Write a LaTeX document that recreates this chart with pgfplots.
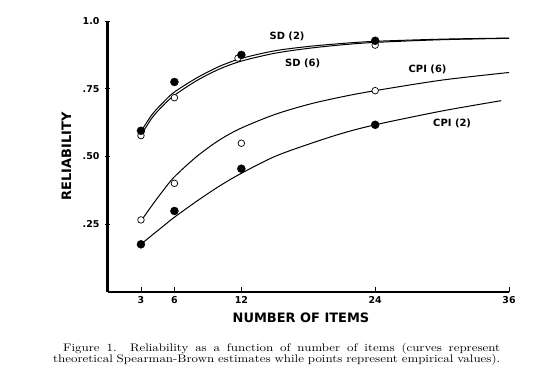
\documentclass[border=0pt]{standalone}
\usepackage{fontspec}
\usepackage{pgfplots}
\pgfplotsset{compat=1.18}
\newfontfamily\dv{DejaVu Sans}
\newfontfamily\capfont[FakeStretch=1.18]{Latin Modern Roman}
\begin{document}
\begin{tikzpicture}[x=1bp,y=1bp]
\path[use as bounding box] (0,0) rectangle (556,377);
\begin{axis}[
  at={(107.5bp,85bp)}, anchor=south west,
  scale only axis, width=401.5bp, height=271bp,
  xmin=0, xmax=36, ymin=0, ymax=1,
  clip=false,
  axis x line*=bottom, axis y line*=left,
  axis line style={-, line width=2.6bp},
  xtick={3,6,12,24,36},
  ytick={0.25,0.5,0.75,1},
  yticklabels={.25,.50,.75,1.0},
  /pgf/number format/assume math mode=true,
  ticklabel style={font=\dv\bfseries\fontsize{9.5}{10}\selectfont},
  x tick style={line width=0.8bp, black},
  y tick style={line width=0.8bp, black},
  major tick length=5bp,
  xtick align=inside,
  ytick align=center,
  yticklabel style={xshift=-2bp},
  xticklabel style={yshift=-1bp},
]
% theoretical curves
\addplot[black, line width=1bp, smooth] coordinates {
 (3,0.592) (4,0.655) (5,0.700) (6,0.738) (8,0.790) (10,0.832) (12,0.862) (15,0.890) (18,0.906) (21,0.917) (24,0.925) (30,0.933) (36,0.937)};
\addplot[black, line width=1bp, smooth] coordinates {
 (3,0.578) (4,0.643) (5,0.689) (6,0.726) (8,0.780) (10,0.822) (12,0.852) (15,0.881) (18,0.899) (21,0.912) (24,0.921) (30,0.931) (36,0.936)};
\addplot[black, line width=1bp, smooth] coordinates {
 (3,0.262) (4,0.320) (5,0.375) (6,0.425) (8,0.500) (10,0.560) (12,0.605) (15,0.655) (18,0.692) (21,0.720) (24,0.743) (30,0.782) (36,0.810)};
\addplot[black, line width=1bp, smooth] coordinates {
 (3,0.176) (4,0.210) (5,0.243) (6,0.276) (8,0.335) (10,0.390) (12,0.438) (15,0.500) (18,0.545) (21,0.585) (24,0.617) (30,0.668) (35.3,0.706)};
% empirical points
\addplot[only marks, mark=*, mark size=3.3bp, mark options={fill=white, draw=black, line width=0.7bp}] coordinates {
 (3,0.577) (6,0.717) (11.7,0.863) (24,0.911)};
\addplot[only marks, mark=*, mark size=3.3bp, mark options={fill=white, draw=black, line width=0.7bp}] coordinates {
 (3,0.266) (6,0.401) (12,0.549) (24,0.743)};
\addplot[only marks, mark=*, mark size=4bp, mark options={fill=black, draw=black}] coordinates {
 (3,0.595) (6,0.775) (12,0.875) (24,0.927)};
\addplot[only marks, mark=*, mark size=4bp, mark options={fill=black, draw=black}] coordinates {
 (3,0.176) (6,0.299) (12,0.455) (24,0.617)};
% curve labels
\node[font=\dv\bfseries\fontsize{10}{10}\selectfont] at (axis cs:16.1,0.945) {SD (2)};
\node[font=\dv\bfseries\fontsize{10}{10}\selectfont] at (axis cs:17.5,0.845) {SD (6)};
\node[font=\dv\bfseries\fontsize{10}{10}\selectfont] at (axis cs:28.7,0.823) {CPI (6)};
\node[font=\dv\bfseries\fontsize{10}{10}\selectfont] at (axis cs:30.9,0.624) {CPI (2)};
\end{axis}
% axis titles
\node[font=\dv\bfseries\fontsize{13}{13}\selectfont, rotate=90] at (66.5,220.5) {RELIABILITY};
\node[font=\dv\bfseries\fontsize{13}{13}\selectfont] at (301,59) {NUMBER OF ITEMS};
% caption
\node[anchor=base west, inner sep=0pt, font=\capfont\fontsize{11}{12}\selectfont] at (63,25.5) {\hbox to 437bp{Figure 1. Reliability as a function of number of items (curves represent}};
\node[anchor=base west, inner sep=0pt, font=\capfont\fontsize{11}{12}\selectfont] at (53,14.5) {\hbox to 447bp{theoretical Spearman-Brown estimates while points represent empirical values).}};
\end{tikzpicture}
\end{document}
